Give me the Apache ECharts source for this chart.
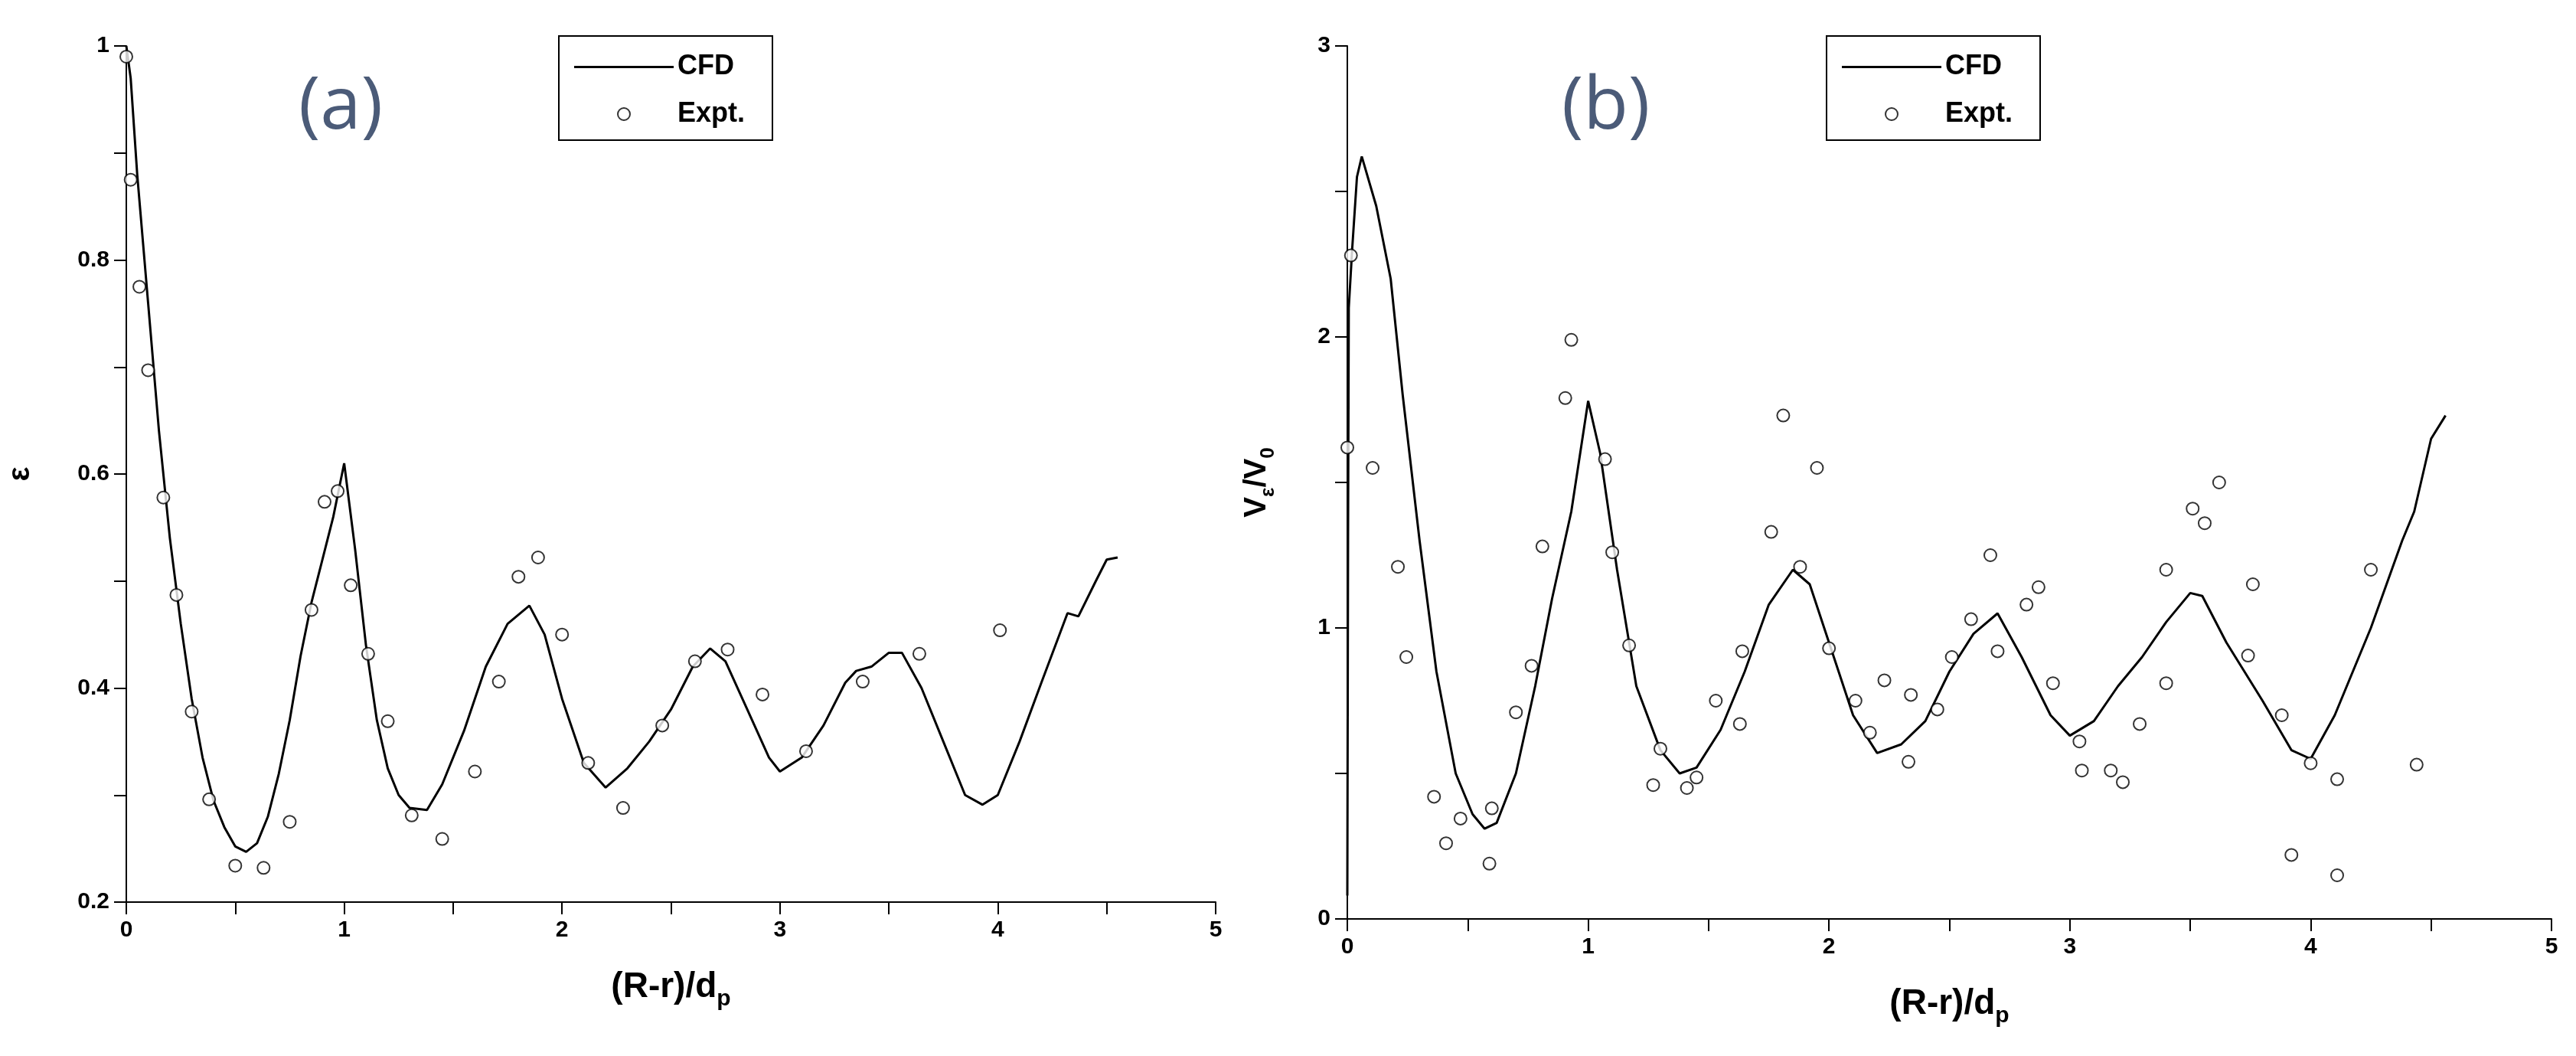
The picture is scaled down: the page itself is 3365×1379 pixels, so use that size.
<!DOCTYPE html>
<html><head><meta charset="utf-8">
<script src="https://cdn.jsdelivr.net/npm/echarts@6/dist/echarts.min.js"></script>
<style>html,body{margin:0;background:#fff}#c{width:3365px;height:1379px}</style>
</head><body><div id="c"></div>
<script>
// (a) porosity
var cfdA = [[0,1.0],[0.02,0.97],[0.05,0.88],[0.1,0.76],[0.15,0.64],[0.2,0.54],[0.25,0.46],[0.3,0.39],[0.35,0.335],[0.4,0.295],[0.45,0.27],[0.5,0.252],[0.55,0.247],[0.6,0.255],[0.65,0.28],[0.7,0.32],[0.75,0.37],[0.8,0.43],[0.85,0.48],[0.9,0.52],[0.95,0.56],[1.0,0.61],[1.05,0.53],[1.1,0.44],[1.15,0.37],[1.2,0.325],[1.25,0.3],[1.3,0.288],[1.38,0.286],[1.45,0.31],[1.55,0.36],[1.65,0.42],[1.75,0.46],[1.85,0.477],[1.92,0.45],[2.0,0.39],[2.1,0.33],[2.2,0.307],[2.3,0.325],[2.4,0.35],[2.5,0.38],[2.6,0.42],[2.68,0.437],[2.75,0.425],[2.85,0.38],[2.95,0.335],[3.0,0.322],[3.1,0.335],[3.2,0.365],[3.3,0.405],[3.35,0.416],[3.42,0.42],[3.5,0.433],[3.56,0.433],[3.65,0.4],[3.75,0.35],[3.85,0.3],[3.93,0.291],[4.0,0.3],[4.1,0.35],[4.2,0.405],[4.32,0.47],[4.37,0.467],[4.45,0.5],[4.5,0.52],[4.55,0.522]];
var exptA = [[0.0,0.99],[0.02,0.875],[0.06,0.775],[0.1,0.697],[0.17,0.578],[0.23,0.487],[0.3,0.378],[0.38,0.296],[0.5,0.234],[0.63,0.232],[0.75,0.275],[0.85,0.473],[0.91,0.574],[0.97,0.584],[1.03,0.496],[1.11,0.432],[1.2,0.369],[1.31,0.281],[1.45,0.259],[1.6,0.322],[1.71,0.406],[1.8,0.504],[1.89,0.522],[2.0,0.45],[2.12,0.33],[2.28,0.288],[2.46,0.365],[2.61,0.425],[2.76,0.436],[2.92,0.394],[3.12,0.341],[3.38,0.406],[3.64,0.432],[4.01,0.454]];
// (b) velocity ratio
var cfdB = [[0,0.08],[0.003,1.3],[0.006,2.1],[0.02,2.3],[0.04,2.55],[0.06,2.62],[0.12,2.45],[0.18,2.2],[0.23,1.8],[0.3,1.3],[0.37,0.85],[0.45,0.5],[0.52,0.36],[0.57,0.31],[0.62,0.33],[0.7,0.5],[0.78,0.8],[0.85,1.1],[0.93,1.4],[1.0,1.78],[1.05,1.6],[1.12,1.2],[1.2,0.8],[1.3,0.58],[1.38,0.5],[1.45,0.52],[1.55,0.65],[1.65,0.85],[1.75,1.08],[1.85,1.2],[1.92,1.15],[2.0,0.95],[2.1,0.7],[2.2,0.57],[2.3,0.6],[2.4,0.68],[2.5,0.85],[2.6,0.98],[2.7,1.05],[2.8,0.9],[2.92,0.7],[3.0,0.63],[3.1,0.68],[3.2,0.8],[3.3,0.9],[3.4,1.02],[3.5,1.12],[3.55,1.11],[3.65,0.95],[3.8,0.75],[3.92,0.58],[4.0,0.55],[4.1,0.7],[4.25,1.0],[4.38,1.3],[4.43,1.4],[4.5,1.65],[4.56,1.73]];
var exptB = [[0,1.62],[0.015,2.28],[0.105,1.55],[0.21,1.21],[0.245,0.9],[0.36,0.42],[0.41,0.26],[0.47,0.345],[0.59,0.19],[0.6,0.38],[0.7,0.71],[0.765,0.87],[0.81,1.28],[0.905,1.79],[0.93,1.99],[1.07,1.58],[1.1,1.26],[1.17,0.94],[1.27,0.46],[1.3,0.585],[1.41,0.45],[1.45,0.486],[1.53,0.75],[1.63,0.67],[1.64,0.92],[1.76,1.33],[1.81,1.73],[1.88,1.21],[1.95,1.55],[2.0,0.93],[2.11,0.75],[2.17,0.64],[2.23,0.82],[2.33,0.54],[2.34,0.77],[2.45,0.72],[2.51,0.9],[2.59,1.03],[2.67,1.25],[2.7,0.92],[2.82,1.08],[2.87,1.14],[2.93,0.81],[3.04,0.61],[3.05,0.51],[3.17,0.51],[3.22,0.47],[3.29,0.67],[3.4,0.81],[3.4,1.2],[3.51,1.41],[3.56,1.36],[3.62,1.5],[3.74,0.905],[3.76,1.15],[3.88,0.7],[3.92,0.22],[4.0,0.535],[4.11,0.15],[4.11,0.48],[4.25,1.2],[4.44,0.53]];

var font = 'Liberation Sans';
var tickLbl = {fontFamily: font, fontWeight: 'bold', fontSize: 30, color: '#000', margin: 22};
function rich(big, small) {
  return {
    b: {fontFamily: font, fontWeight: 'bold', fontSize: big, lineHeight: big + 16, color: '#000', verticalAlign: 'middle'},
    s: {fontFamily: font, fontWeight: 'bold', fontSize: small, lineHeight: big + 16, color: '#000', verticalAlign: 'bottom'}
  };
}
function xAxis(i) {
  return {
    type: 'value', gridIndex: i, min: 0, max: 5, interval: 1,
    name: '{b|(R-r)/d}{s|p}', nameLocation: 'middle', nameGap: 80,
    nameTextStyle: {rich: rich(46, 30)},
    axisLine: {lineStyle: {color: '#000', width: 2}},
    axisTick: {inside: false, length: 16, lineStyle: {color: '#000', width: 2}},
    minorTick: {show: true, splitNumber: 2, length: 16, lineStyle: {color: '#000', width: 2}},
    axisLabel: tickLbl, splitLine: {show: false}
  };
}
function yAxis(i, min, max, interval, minorSplit, name, gap) {
  return {
    type: 'value', gridIndex: i, min: min, max: max, interval: interval,
    name: name, nameLocation: 'middle', nameGap: gap, nameRotate: 90,
    nameTextStyle: {rich: rich(40, 26)},
    axisLine: {lineStyle: {color: '#000', width: 2}},
    axisTick: {inside: false, length: 16, lineStyle: {color: '#000', width: 2}},
    minorTick: {show: true, splitNumber: minorSplit, length: 16, lineStyle: {color: '#000', width: 2}},
    axisLabel: tickLbl, splitLine: {show: false}
  };
}
var lineIcon = 'path://M0,0L0,0M0,7H130V10H0ZM130,16L130,16';
function legend(left) {
  return {
    left: left, top: 47, orient: 'vertical',
    data: [{name: 'CFD', icon: lineIcon}, {name: 'Expt.', icon: 'emptyCircle'}],
    borderColor: '#000', borderWidth: 2, padding: [22, 36, 16, 20], itemGap: 26,
    itemWidth: 130, itemHeight: 16,
    textStyle: {fontFamily: font, fontWeight: 'bold', fontSize: 36, color: '#000'}
  };
}
function lineS(i, d) {
  return {name: 'CFD', type: 'line', xAxisIndex: i, yAxisIndex: i, data: d, showSymbol: false, symbol: 'none',
          lineStyle: {color: '#000', width: 3}, itemStyle: {color: '#000'}, z: 2};
}
function dotS(i, d) {
  return {name: 'Expt.', type: 'scatter', xAxisIndex: i, yAxisIndex: i, data: d, symbol: 'emptyCircle', symbolSize: 16,
          itemStyle: {color: '#000', borderColor: '#000', borderWidth: 2.5}, z: 3};
}

var chart = echarts.init(document.getElementById('c'));
chart.setOption({
  backgroundColor: '#fff',
  animation: false,
  title: [
    {text: '(a)', left: 385, top: 88, textStyle: {fontFamily: 'Open Sans', fontWeight: 'normal', fontSize: 96, color: '#4b5b78'}},
    {text: '(b)', left: 2035, top: 88, textStyle: {fontFamily: 'Open Sans', fontWeight: 'normal', fontSize: 96, color: '#4b5b78'}}
  ],
  legend: [legend(730), legend(2386)],
  grid: [
    {left: 165, right: 1777, top: 60, bottom: 201},
    {left: 1760, right: 32, top: 60, bottom: 179}
  ],
  xAxis: [xAxis(0), xAxis(1)],
  yAxis: [
    yAxis(0, 0.2, 1, 0.2, 2, '{b|ε}', 110),
    yAxis(1, 0, 3, 1, 2, '{b|V}{s|ε}{b|/V}{s|0}', 90)
  ],
  series: [lineS(0, cfdA), dotS(0, exptA), lineS(1, cfdB), dotS(1, exptB)]
});
</script></body></html>
